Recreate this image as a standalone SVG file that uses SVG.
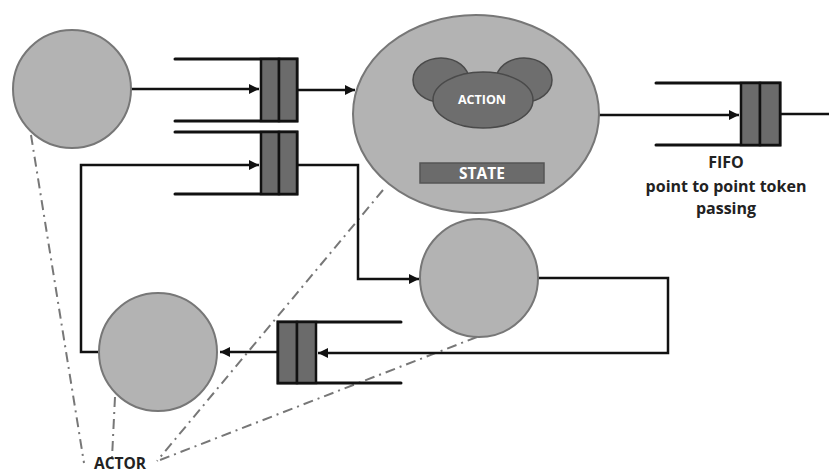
<svg xmlns="http://www.w3.org/2000/svg" width="829" height="475" viewBox="0 0 829 475">
<style>
.actor{fill:#b3b3b3;stroke:#777;stroke-width:2}
.blob{fill:#6e6e6e;stroke:#4a4a4a;stroke-width:1.5}
.cell{fill:#6b6b6b;stroke:#111;stroke-width:2.5}
.rail{fill:none;stroke:#111;stroke-width:3;stroke-linecap:round}
.wire{fill:none;stroke:#111;stroke-width:2.5}
.ref{fill:none;stroke:#777;stroke-width:2;stroke-dasharray:10 5 2 5}
.lbl{font-family:"Open Sans","Liberation Sans",sans-serif;font-weight:bold;fill:#222;text-anchor:middle}
.wlbl{font-family:"Open Sans","Liberation Sans",sans-serif;font-weight:bold;fill:#fff;text-anchor:middle}
</style>
<defs>
<marker id="ah" viewBox="0 0 10 10" refX="10" refY="5" markerWidth="4" markerHeight="4" orient="auto" markerUnits="strokeWidth">
<path d="M0,0 L10,5 L0,10 z" fill="#111"/>
</marker>
</defs>
<rect width="829" height="475" fill="#fff"/>

<g id="refs">
<line class="ref" x1="31" y1="135" x2="84" y2="463"/>
<line class="ref" x1="115" y1="397" x2="112" y2="458"/>
<line class="ref" x1="383" y1="190" x2="157" y2="461"/>
<line class="ref" x1="477" y1="337" x2="160" y2="460"/>
</g>

<g id="connectors">
<polyline class="wire" points="131,89 259,89" marker-end="url(#ah)"/>
<polyline class="wire" points="297,90 355,90" marker-end="url(#ah)"/>
<polyline class="wire" points="297,165 358,165 358,279 419,279" marker-end="url(#ah)"/>
<polyline class="wire" points="100,352 81,352 81,165 259,165" marker-end="url(#ah)"/>
<polyline class="wire" points="538,278 668,278 668,353 318,353" marker-end="url(#ah)"/>
<polyline class="wire" points="278,352 220,352" marker-end="url(#ah)"/>
<polyline class="wire" points="599,115 739,115" marker-end="url(#ah)"/>
<line class="wire" x1="780" y1="114" x2="829" y2="114"/>
</g>

<g id="actor1"><circle class="actor" cx="72" cy="89" r="59"/></g>
<g id="actor2"><circle class="actor" cx="479" cy="278" r="59"/></g>
<g id="actor3"><circle class="actor" cx="158" cy="352" r="59"/></g>

<g id="actorMain">
<ellipse class="actor" cx="476" cy="114" rx="123" ry="99"/>
<ellipse class="blob" cx="441" cy="80" rx="28" ry="22"/>
<ellipse class="blob" cx="524" cy="80" rx="28" ry="22"/>
<ellipse class="blob" cx="483" cy="100" rx="50" ry="28"/>
<text class="wlbl" x="482" y="104" font-size="12.5">ACTION</text>
<rect x="420" y="163" width="124" height="20" fill="#6b6b6b" stroke="#555" stroke-width="1.5"/>
<text class="wlbl" x="482" y="179" font-size="15.5">STATE</text>
</g>

<g id="fifo1">
<polyline class="rail" points="175,59 297,59 297,121 175,121"/>
<rect class="cell" x="261" y="59" width="18" height="62"/>
<rect class="cell" x="279" y="59" width="18" height="62"/>
</g>
<g id="fifo2">
<polyline class="rail" points="175,132 297,132 297,194 175,194"/>
<rect class="cell" x="261" y="132" width="18" height="62"/>
<rect class="cell" x="279" y="132" width="18" height="62"/>
</g>
<g id="fifo3">
<polyline class="rail" points="401,322 278,322 278,383 401,383"/>
<rect class="cell" x="278" y="322" width="19" height="61"/>
<rect class="cell" x="297" y="322" width="19" height="61"/>
</g>
<g id="fifo4">
<polyline class="rail" points="656,83 780,83 780,145 656,145"/>
<rect class="cell" x="741" y="83" width="19" height="62"/>
<rect class="cell" x="760" y="83" width="20" height="62"/>
</g>

<g id="labels">
<text class="lbl" x="726" y="168" font-size="16">FIFO</text>
<text class="lbl" x="726" y="192" font-size="16">point to point token</text>
<text class="lbl" x="726" y="214" font-size="16">passing</text>
<text class="lbl" x="120" y="469" font-size="15.5">ACTOR</text>
</g>
</svg>
